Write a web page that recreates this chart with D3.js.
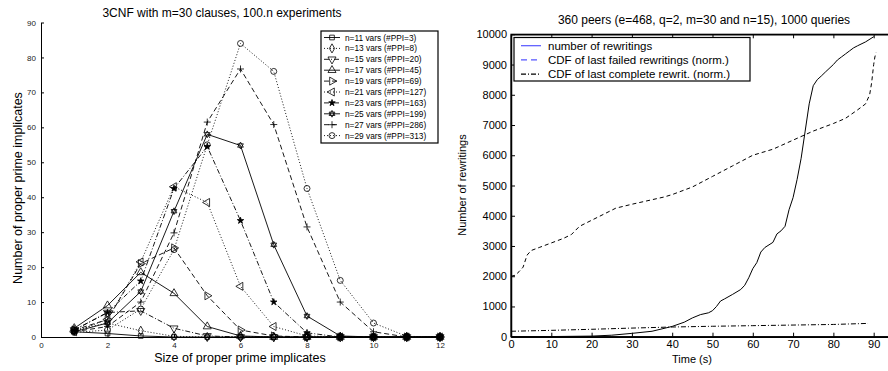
<!DOCTYPE html>
<html>
<head>
<meta charset="utf-8">
<script src="https://cdn.jsdelivr.net/npm/d3@7"></script>
<style>
  body { margin: 0; background: #fff; }
  svg { display: block; font-family: "Liberation Sans", Arial, sans-serif; }
</style>
</head>
<body>
<svg id="chart" width="888" height="371"></svg>
<script>
// ---- left chart data: count of proper prime implicates by size ----
const sizes = [1, 2, 3, 4, 5, 6, 7, 8, 9, 10, 11, 12];
const n11 = [1.5, 1.0, 0.3, 0, 0, 0, 0, 0, 0, 0, 0, 0];
const n13 = [2.0, 4.0, 1.8, 0.2, 0, 0, 0, 0, 0, 0, 0, 0];
const n15 = [2.0, 7.0, 7.5, 2.5, 0.3, 0, 0, 0, 0, 0, 0, 0];
const n17 = [2.5, 9.0, 18.5, 12.5, 3.0, 0.3, 0, 0, 0, 0, 0, 0];
const n19 = [2.0, 5.0, 21.0, 25.5, 11.8, 2.0, 0.3, 0, 0, 0, 0, 0];
const n21 = [1.5, 5.0, 21.5, 43.0, 38.5, 14.5, 3.0, 0.3, 0, 0, 0, 0];
const n23 = [2.0, 7.0, 16.0, 42.5, 54.5, 33.3, 10.0, 1.2, 0, 0, 0, 0];
const n25 = [1.5, 4.0, 13.0, 36.0, 58.0, 54.8, 26.4, 6.0, 0.3, 0, 0, 0];
const n27 = [1.5, 3.0, 10.0, 29.8, 61.5, 76.7, 60.8, 31.5, 10.0, 1.5, 0, 0];
const n29 = [1.3, 2.0, 8.0, 25.0, 55.0, 84.0, 76.0, 42.5, 16.2, 4.0, 0.2, 0];
const seriesLabels = [
  'n=11 vars (#PPI=3)', 'n=13 vars (#PPI=8)', 'n=15 vars (#PPI=20)', 'n=17 vars (#PPI=45)',
  'n=19 vars (#PPI=69)', 'n=21 vars (#PPI=127)', 'n=23 vars (#PPI=163)', 'n=25 vars (#PPI=199)',
  'n=27 vars (#PPI=286)', 'n=29 vars (#PPI=313)'
];
const leftYTicks = [0, 10, 20, 30, 40, 50, 60, 70, 80, 90];
const leftXTicks = [0, 2, 4, 6, 8, 10, 12];

// ---- right chart data ----
const rewriteTime = [0, 10, 20, 25, 30, 35, 40, 43, 45, 47, 49, 50, 51, 52, 53, 55, 57, 58, 59, 60, 61, 62, 63, 65, 66, 67, 68, 69, 70, 71, 72, 73, 74, 75, 76, 77, 78, 80, 81, 82, 83, 84, 85, 86, 88, 90];
const rewritings = [0, 5, 20, 50, 110, 180, 340, 480, 620, 730, 790, 860, 1000, 1180, 1250, 1400, 1560, 1700, 1950, 2250, 2450, 2800, 2950, 3120, 3400, 3500, 3650, 4200, 4600, 5200, 5900, 6800, 7700, 8300, 8500, 8620, 8750, 9000, 9150, 9250, 9350, 9450, 9550, 9620, 9750, 9920];
const failedTime = [0, 1, 2, 3, 4, 5, 7, 10, 13, 15, 17, 20, 23, 26, 30, 34, 38, 40, 45, 50, 55, 60, 65, 70, 75, 80, 83, 86, 88, 89, 89.5, 90, 90.3, 90.6];
const failedCdf = [2000, 2030, 2150, 2300, 2700, 2850, 2950, 3100, 3250, 3380, 3650, 3850, 4050, 4250, 4380, 4500, 4620, 4700, 4950, 5300, 5650, 6000, 6200, 6500, 6800, 7050, 7220, 7500, 7700, 8000, 8400, 9000, 9250, 9400];
const completeTime = [0, 10, 20, 30, 40, 50, 60, 70, 80, 88.6];
const completeCdf = [180, 210, 245, 285, 320, 345, 365, 385, 405, 440];
const rightXTicks = [0, 10, 20, 30, 40, 50, 60, 70, 80, 90];
const rightYTicks = [0, 1000, 2000, 3000, 4000, 5000, 6000, 7000, 8000, 9000, 10000];
const rightLegend = ['number of rewritings', 'CDF of last failed rewritings (norm.)', 'CDF of last complete rewrit. (norm.)'];

const svg = d3.select('#chart');

// ---------- left chart ----------
const xL = d3.scaleLinear().domain([0, 12]).range([41, 440]);
const yL = d3.scaleLinear().domain([0, 90]).range([337, 22.5]);

const dashes = { solid: null, dot: '1,2', dashdot: '5,2,1,2', dash: '5,3' };
const styles = ['solid', 'dot', 'dashdot', 'solid', 'dash', 'dot', 'dashdot', 'solid', 'dash', 'dot'];
const allSeries = [n11, n13, n15, n17, n19, n21, n23, n25, n27, n29];

const tri = d3.symbol().type(d3.symbolTriangle).size(28)();
const hexagram = 'M0,-3.4L2.9,1.7L-2.9,1.7Z M0,3.4L2.9,-1.7L-2.9,-1.7Z';
const markers = [
  { d: d3.symbol().type(d3.symbolSquare).size(22)(), rot: 0 },
  { d: d3.symbol().type(d3.symbolDiamond).size(24)(), rot: 0 },
  { d: tri, rot: 180 },
  { d: tri, rot: 0 },
  { d: tri, rot: 90 },
  { d: tri, rot: -90 },
  { d: d3.symbol().type(d3.symbolStar).size(13)(), rot: 0, fill: true },
  { d: hexagram, rot: 0 },
  { d: 'M-3.5,0H3.5M0,-3.5V3.5', rot: 0 },
  { d: d3.symbol().type(d3.symbolCircle).size(28)(), rot: 0 }
];

const gL = svg.append('g');

gL.append('g')
  .attr('transform', 'translate(0,337)')
  .call(d3.axisBottom(xL).tickValues(leftXTicks).tickSizeInner(-3).tickSizeOuter(0).tickPadding(5))
  .call(g => g.selectAll('text').attr('font-size', 8).attr('fill', '#222'));
gL.append('g')
  .attr('transform', 'translate(41,0)')
  .call(d3.axisLeft(yL).tickValues(leftYTicks).tickSizeInner(-3).tickSizeOuter(0).tickPadding(5))
  .call(g => g.selectAll('text').attr('font-size', 8).attr('fill', '#222'));
gL.selectAll('.domain, .tick line').attr('stroke', '#000');

const lineL = d3.line().x((d, i) => xL(sizes[i])).y(d => yL(d));

allSeries.forEach((vals, k) => {
  gL.append('path')
    .attr('d', lineL(vals))
    .attr('fill', 'none')
    .attr('stroke', '#000')
    .attr('stroke-width', 0.9)
    .attr('stroke-dasharray', dashes[styles[k]]);
  gL.selectAll(null)
    .data(vals)
    .join('path')
    .attr('d', markers[k].d)
    .attr('transform', (d, i) => `translate(${xL(sizes[i])},${yL(d)}) rotate(${markers[k].rot})`)
    .attr('fill', markers[k].fill ? '#000' : 'none')
    .attr('stroke', '#000')
    .attr('stroke-width', 0.8);
});

svg.append('text')
  .attr('x', 222).attr('y', 17)
  .attr('text-anchor', 'middle').attr('font-size', 12)
  .text('3CNF with m=30 clauses, 100.n experiments');
svg.append('text')
  .attr('x', 240).attr('y', 362)
  .attr('text-anchor', 'middle').attr('font-size', 12.5)
  .text('Size of proper prime implicates');
svg.append('text')
  .attr('transform', 'translate(22,188) rotate(-90)')
  .attr('text-anchor', 'middle').attr('font-size', 12.5)
  .text('Number of proper prime implicates');

// left legend
const legL = svg.append('g').attr('transform', 'translate(321,31)');
legL.append('rect')
  .attr('width', 117).attr('height', 112)
  .attr('fill', '#fff').attr('stroke', '#000').attr('stroke-width', 1.2);
seriesLabels.forEach((lab, k) => {
  const y = 6.5 + k * 10.9;
  legL.append('line')
    .attr('x1', 3).attr('x2', 19).attr('y1', y).attr('y2', y)
    .attr('stroke', '#000').attr('stroke-width', 0.9)
    .attr('stroke-dasharray', dashes[styles[k]]);
  legL.append('path')
    .attr('d', markers[k].d)
    .attr('transform', `translate(11,${y}) rotate(${markers[k].rot})`)
    .attr('fill', markers[k].fill ? '#000' : 'none')
    .attr('stroke', '#000').attr('stroke-width', 0.8);
  legL.append('text')
    .attr('x', 24).attr('y', y + 3)
    .attr('font-size', 8.3)
    .text(lab);
});

// ---------- right chart ----------
const xR = d3.scaleLinear().domain([0, 94.3]).range([511, 891]);
const yR = d3.scaleLinear().domain([0, 10000]).range([336.7, 34.3]);

const gR = svg.append('g');
gR.append('rect')
  .attr('x', 511).attr('y', 34.3).attr('width', 380).attr('height', 302.4)
  .attr('fill', 'none').attr('stroke', '#000').attr('stroke-width', 1.2);

gR.append('g')
  .attr('transform', 'translate(0,336.7)')
  .call(d3.axisBottom(xR).tickValues(rightXTicks).tickSizeInner(-4).tickSizeOuter(0).tickPadding(4))
  .call(g => g.selectAll('text').attr('font-size', 11).attr('fill', '#000'));
gR.append('g')
  .attr('transform', 'translate(0,34.3)')
  .call(d3.axisTop(xR).tickValues(rightXTicks).tickSizeInner(-4).tickSizeOuter(0).tickFormat(''));
gR.append('g')
  .attr('transform', 'translate(511,0)')
  .call(d3.axisLeft(yR).tickValues(rightYTicks).tickSizeInner(-4).tickSizeOuter(0).tickPadding(4).tickFormat(d3.format('d')))
  .call(g => g.selectAll('text').attr('font-size', 11).attr('fill', '#000'));
gR.selectAll('.domain').attr('stroke', '#000').attr('stroke-width', 1.5);
gR.selectAll('.tick line').attr('stroke', '#000');

const lineR = d3.line();
gR.append('path')
  .attr('d', lineR(rewriteTime.map((t, i) => [xR(t), yR(rewritings[i])])))
  .attr('fill', 'none').attr('stroke', '#000').attr('stroke-width', 1);
gR.append('path')
  .attr('d', lineR(failedTime.map((t, i) => [xR(t), yR(failedCdf[i])])))
  .attr('fill', 'none').attr('stroke', '#000').attr('stroke-width', 1)
  .attr('stroke-dasharray', '4,3');
gR.append('path')
  .attr('d', lineR(completeTime.map((t, i) => [xR(t), yR(completeCdf[i])])))
  .attr('fill', 'none').attr('stroke', '#000').attr('stroke-width', 1)
  .attr('stroke-dasharray', '5,2,1,2');

svg.append('text')
  .attr('x', 704).attr('y', 24)
  .attr('text-anchor', 'middle').attr('font-size', 12)
  .text('360 peers (e=468,  q=2, m=30 and n=15), 1000 queries');
svg.append('text')
  .attr('x', 692).attr('y', 363)
  .attr('text-anchor', 'middle').attr('font-size', 11)
  .text('Time (s)');
svg.append('text')
  .attr('transform', 'translate(466,185) rotate(-90)')
  .attr('text-anchor', 'middle').attr('font-size', 11)
  .text('Number of rewritings');

// right legend
const legR = svg.append('g').attr('transform', 'translate(514,37.5)');
legR.append('rect')
  .attr('width', 236).attr('height', 43.5)
  .attr('fill', '#fff').attr('stroke', '#000').attr('stroke-width', 1.2);
const legColors = ['#5555ff', '#5555ff', '#000'];
const legDash = [null, '6,4', '5,2,1,2'];
rightLegend.forEach((lab, k) => {
  const y = 8.2 + k * 14.2;
  legR.append('line')
    .attr('x1', 7).attr('x2', 27).attr('y1', y).attr('y2', y)
    .attr('stroke', legColors[k]).attr('stroke-width', 1.2)
    .attr('stroke-dasharray', legDash[k]);
  legR.append('text')
    .attr('x', 34).attr('y', y + 4)
    .attr('font-size', 11.5)
    .text(lab);
});
</script>
</body>
</html>
